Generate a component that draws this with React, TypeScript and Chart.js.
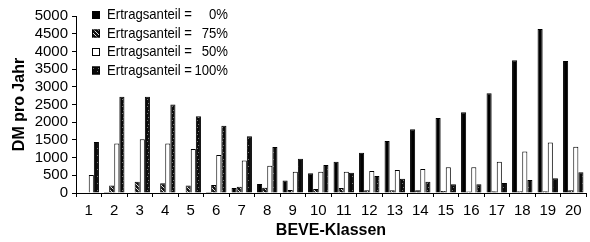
import React, { useEffect, useRef } from "react";
import { Chart, registerables } from "chart.js";

Chart.register(...registerables);

const categories = ["1","2","3","4","5","6","7","8","9","10","11","12","13","14","15","16","17","18","19","20"];
const seriesPrefix = "Ertragsanteil =";
const seriesPercent = ["0%", "75%", "50%", "100%"];
const anteil0 = [0, 30, 0, 0, 0, 30, 140, 255, 350, 555, 885, 1140, 1470, 1800, 2120, 2280, 2820, 3750, 4630, 3730];
const anteil75 = [0, 215, 320, 275, 215, 225, 180, 150, 85, 110, 140, 80, 80, 80, 60, 40, 50, 50, 50, 80];
const anteil50 = [510, 1400, 1520, 1400, 1240, 1070, 920, 770, 600, 600, 600, 620, 650, 680, 725, 730, 885, 1170, 1430, 1310];
const anteil100 = [1440, 2720, 2720, 2500, 2170, 1900, 1600, 1300, 970, 790, 575, 480, 400, 320, 250, 250, 280, 370, 415, 585];
const yMin = 0;
const yMax = 5000;
const yStep = 500;
const xTitle = "BEVE-Klassen";
const yTitle = "DM pro Jahr";

const FONT = "'Liberation Sans', Arial, Helvetica, sans-serif";

function makeHatch(): CanvasPattern | string {
  const c = document.createElement("canvas");
  c.width = 4;
  c.height = 4;
  const g = c.getContext("2d");
  if (!g) return "#222";
  g.fillStyle = "#111";
  g.fillRect(0, 0, 4, 4);
  g.fillStyle = "#ddd";
  g.fillRect(0, 0, 1, 1);
  g.fillRect(1, 1, 1, 1);
  g.fillRect(2, 2, 1, 1);
  g.fillRect(3, 3, 1, 1);
  const p = g.createPattern(c, "repeat");
  return p || "#222";
}

function makeSpeckle(): CanvasPattern | string {
  const c = document.createElement("canvas");
  c.width = 5;
  c.height = 7;
  const g = c.getContext("2d");
  if (!g) return "#111";
  g.fillStyle = "#0a0a0a";
  g.fillRect(0, 0, 5, 7);
  g.fillStyle = "#777";
  g.fillRect(2, 1, 1, 1);
  g.fillRect(3, 5, 1, 1);
  const p = g.createPattern(c, "repeat");
  return p || "#111";
}

export default function App() {
  const ref = useRef<HTMLCanvasElement | null>(null);

  useEffect(() => {
    const canvas = ref.current;
    if (!canvas) return;
    const hatch = makeHatch();
    const speckle = makeSpeckle();
    const fills: any[] = ["#000", hatch, "#fff", speckle];

    const legendPlugin = {
      id: "insetLegend",
      afterDraw(chart: any) {
        const ctx = chart.ctx as CanvasRenderingContext2D;
        ctx.save();
        const boxX = 92;
        const box = 8;
        const rows = [15, 33.5, 52, 70.5];
        ctx.font = `15px ${FONT}`;
        ctx.textBaseline = "middle";
        const prefixW = ctx.measureText(seriesPrefix).width;
        const sx = 85 / prefixW;
        rows.forEach((y, i) => {
          ctx.fillStyle = fills[i];
          ctx.fillRect(boxX, y - box / 2, box, box);
          ctx.strokeStyle = "#000";
          ctx.lineWidth = 1;
          ctx.strokeRect(boxX + 0.5, y - box / 2 + 0.5, box - 1, box - 1);
          ctx.fillStyle = "#000";
          ctx.save();
          ctx.translate(107, y);
          ctx.scale(sx, 1);
          ctx.textAlign = "left";
          ctx.fillText(seriesPrefix, 0, 0);
          ctx.restore();
          ctx.save();
          ctx.translate(228, y);
          ctx.scale(sx, 1);
          ctx.textAlign = "right";
          ctx.fillText(seriesPercent[i], 0, 0);
          ctx.restore();
        });
        ctx.restore();
      },
    };

    const series = [anteil0, anteil75, anteil50, anteil100];
    const chart = new Chart(canvas, {
      type: "bar",
      data: {
        labels: categories,
        datasets: series.map((d, i) => ({
          label: `${seriesPrefix} ${seriesPercent[i]}`,
          data: d,
          backgroundColor: fills[i],
          borderColor: "#000",
          borderWidth: 1,
          categoryPercentage: 0.8,
          barPercentage: 1.0,
        })),
      },
      options: {
        responsive: false,
        animation: false,
        layout: { padding: { top: 16, right: 4, left: 0, bottom: 0 } },
        plugins: {
          legend: { display: false },
          tooltip: { enabled: false },
        },
        scales: {
          x: {
            grid: { display: true, drawOnChartArea: false, tickLength: 4, color: "#000", offset: true },
            border: { display: true, color: "#000", width: 1 },
            ticks: { color: "#000", font: { family: FONT, size: 15 }, padding: 5, maxRotation: 0, autoSkip: false },
            title: {
              display: true,
              text: xTitle,
              color: "#000",
              font: { family: FONT, size: 16, weight: "bold" },
              padding: { top: 0, bottom: 2 },
            },
            afterFit: (s: any) => {
              s.height = 49;
            },
          },
          y: {
            min: yMin,
            max: yMax,
            grid: { display: true, drawOnChartArea: false, tickLength: 4, color: "#000" },
            border: { display: true, color: "#000", width: 1 },
            ticks: {
              stepSize: yStep,
              autoSkip: false,
              color: "#000",
              font: { family: FONT, size: 15, lineHeight: 1 },
              padding: 4,
              callback: (v: any) => String(v),
            },
            title: {
              display: true,
              text: yTitle,
              color: "#000",
              font: { family: FONT, size: 16, weight: "bold" },
              padding: { top: 10, bottom: 0 },
            },
            afterFit: (s: any) => {
              s.width = 76;
            },
          },
        },
      },
      plugins: [legendPlugin],
    } as any);
    return () => chart.destroy();
  }, []);

  return (
    <div style={{ position: "fixed", left: 0, top: 0, width: 590, height: 242, background: "#fff" }}>
      <canvas ref={ref} width={590} height={242} style={{ display: "block", width: 590, height: 242 }} />
    </div>
  );
}
